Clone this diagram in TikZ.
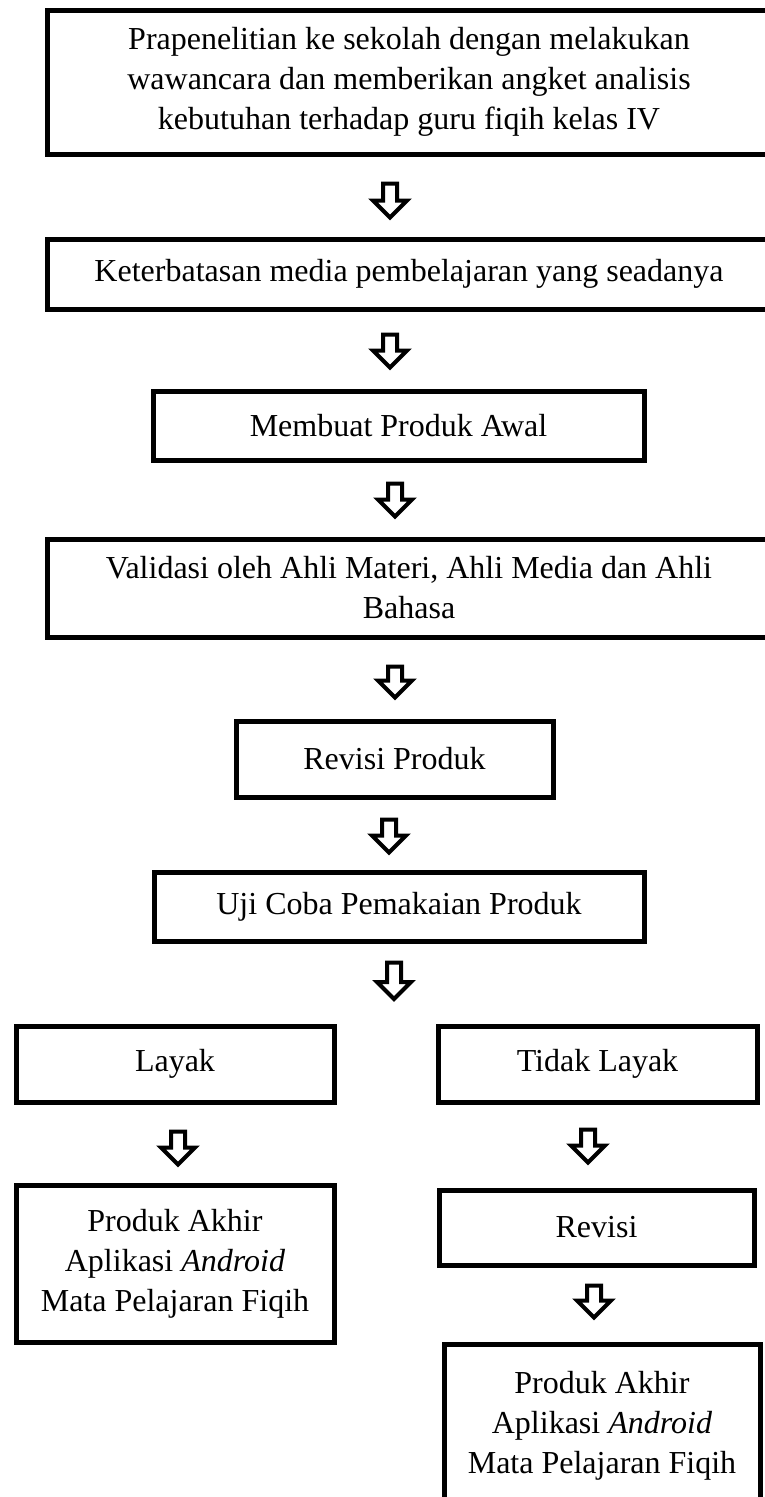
\documentclass[tikz,border=0pt]{standalone}
\usepackage{fontspec}
\setmainfont{Liberation Serif}
\usetikzlibrary{calc}

\tikzset{
  stepbox/.style={draw, line width=5pt, fill=white, align=center, inner sep=0pt,
    font=\fontsize{32}{40}\selectfont},
  blockarrow/.style={draw, line width=4pt, fill=white, line join=miter,
    to path={let \p1=(\tikztostart), \p2=(\tikztotarget) in
      (\x1-7pt,\y1) -- (\x1+7pt,\y1) -- (\x1+7pt,\y2+17pt) -- (\x1+17pt,\y2+17pt)
      -- (\x1,\y2) -- (\x1-17pt,\y2+17pt) -- (\x1-7pt,\y2+17pt) -- cycle}}
}

\begin{document}
\begin{tikzpicture}[x=1pt, y=-1pt]
\useasboundingbox (0,0) rectangle (764,1497);

% main column
\node[stepbox, minimum width=724, minimum height=144] (b1) at (409,82)
  {Prapenelitian ke sekolah dengan melakukan\\wawancara dan memberikan angket analisis\\kebutuhan terhadap guru fiqih kelas IV};
\node[stepbox, minimum width=724, minimum height=70] (b2) at (409,274)
  {Keterbatasan media pembelajaran yang seadanya};
\node[stepbox, minimum width=491, minimum height=69] (b3) at (398.5,425.5)
  {Membuat Produk Awal};
\node[stepbox, minimum width=724, minimum height=98] (b4) at (409,588)
  {Validasi oleh Ahli Materi, Ahli Media dan Ahli\\Bahasa};
\node[stepbox, minimum width=317, minimum height=76] (b5) at (394.5,759)
  {Revisi Produk};
\node[stepbox, minimum width=490, minimum height=69] (b6) at (399,906.5)
  {Uji Coba Pemakaian Produk};

% two outcomes
\node[stepbox, minimum width=318, minimum height=76] (b7) at (175,1064) {Layak};
\node[stepbox, minimum width=319, minimum height=76] (b8) at (597.5,1064) {Tidak Layak};
\node[stepbox, minimum width=318, minimum height=157] (b9) at (175,1263.5)
  {Produk Akhir\\Aplikasi \textit{Android}\\Mata Pelajaran Fiqih};
\node[stepbox, minimum width=315, minimum height=75] (b10) at (596.5,1227.5) {Revisi};
\node[stepbox, minimum width=316, minimum height=164] (b11) at (602,1426)
  {Produk Akhir\\Aplikasi \textit{Android}\\Mata Pelajaran Fiqih};

\coordinate (split) at (394,999);

% hollow block arrows
\draw[blockarrow] ([shift={(-19,27)}]b1.south) to ([shift={(-19,-19)}]b2.north);
\draw[blockarrow] ([shift={(-19,23)}]b2.south) to ([shift={(-8.5,-21)}]b3.north);
\draw[blockarrow] ([shift={(-3.5,21)}]b3.south) to ([shift={(-14,-20)}]b4.north);
\draw[blockarrow] ([shift={(-14,27)}]b4.south) to ([shift={(0.5,-21)}]b5.north);
\draw[blockarrow] ([shift={(-5.5,20)}]b5.south) to ([shift={(-10,-17)}]b6.north);
\draw[blockarrow] ([shift={(-5,19)}]b6.south) to (split);
\draw[blockarrow] ([shift={(3,27)}]b7.south) to ([shift={(3,-18)}]b9.north);
\draw[blockarrow] ([shift={(-9.5,25)}]b8.south) to ([shift={(-8.5,-25)}]b10.north);
\draw[blockarrow] ([shift={(-2.5,18)}]b10.south) to ([shift={(-8,-24)}]b11.north);
\end{tikzpicture}
\end{document}
